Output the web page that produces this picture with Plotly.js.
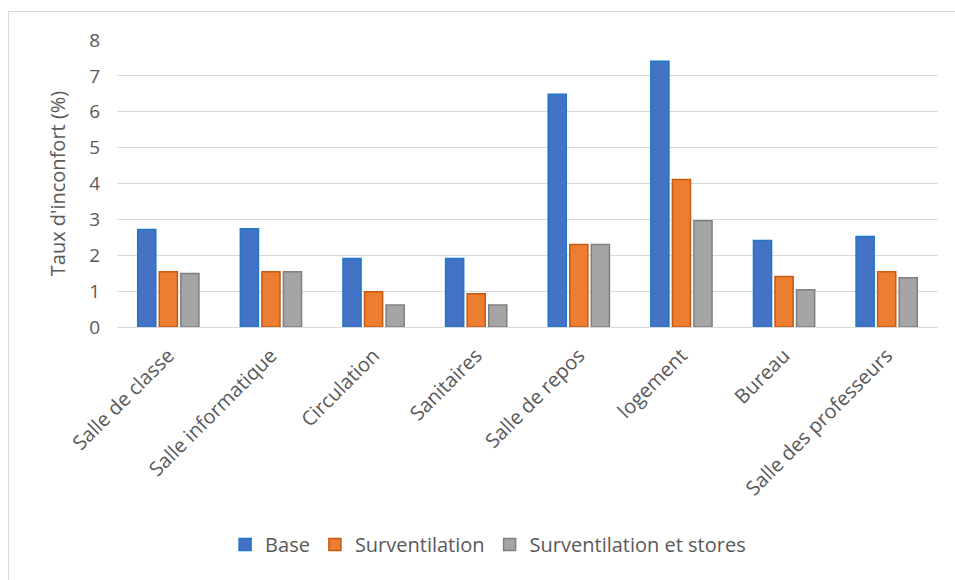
<!DOCTYPE html>
<html>
<head>
<meta charset="utf-8">
<script src="https://cdn.plot.ly/plotly-3.0.1.min.js"></script>
<style>
  html, body { margin: 0; padding: 0; background: #fff; }
  #wrap { position: relative; width: 955px; height: 580px; overflow: hidden; }
  #chart { width: 955px; height: 580px; }
  #frame { position: absolute; left: 8px; top: 11px; width: 960px; height: 600px;
           border-left: 1px solid #d9d9d9; border-top: 1px solid #d9d9d9; pointer-events: none; }
</style>
</head>
<body>
<div id="wrap">
  <div id="chart"></div>
  <div id="frame"></div>
</div>
<script>
const categories = ["Salle de classe", "Salle informatique", "Circulation", "Sanitaires",
                    "Salle de repos", "logement", "Bureau", "Salle des professeurs"];
const seriesNames = ["Base", "Surventilation", "Surventilation et stores"];
const base = [2.72, 2.74, 1.91, 1.91, 6.49, 7.41, 2.41, 2.52];
const surventilation = [1.54, 1.54, 0.98, 0.93, 2.30, 4.11, 1.41, 1.54];
const surventilationStores = [1.49, 1.54, 0.61, 0.61, 2.30, 2.96, 1.04, 1.37];
const yTicks = [0, 1, 2, 3, 4, 5, 6, 7, 8];

const fills = ["#4472C4", "#ED7D31", "#A5A5A5"];
const lines = ["#1F77C8", "#C55A11", "#7F7F7F"];
const values = [base, surventilation, surventilationStores];

const FONT = "'Open Sans', 'Noto Sans', sans-serif";

const data = values.map((v, i) => ({
  type: "bar",
  name: seriesNames[i],
  x: categories,
  y: v,
  marker: { color: fills[i], line: { color: lines[i], width: 1.5 } },
  hoverinfo: "x+y+name"
}));

const layout = {
  width: 955, height: 580,
  margin: { l: 117, r: 17, t: 40, b: 253 },
  paper_bgcolor: "#ffffff",
  plot_bgcolor: "#ffffff",
  font: { family: FONT, color: "#595959", size: 18 },
  barmode: "group",
  bargap: 0.37,
  bargroupgap: 0.16,
  showlegend: true,
  legend: {
    orientation: "h",
    x: 0.452, xanchor: "center",
    y: -0.69, yanchor: "top",
    font: { family: FONT, size: 20, color: "#595959" },
    itemwidth: 30,
    traceorder: "normal"
  },
  xaxis: {
    type: "category",
    tickangle: -45,
    tickfont: { family: FONT, size: 20, color: "#595959" },
    showgrid: false,
    showline: true,
    linecolor: "#d9d9d9",
    linewidth: 1,
    ticks: "",
    ticklabelstandoff: 8,
    automargin: false
  },
  yaxis: {
    range: [0, 8],
    tickvals: yTicks,
    ticktext: yTicks.map(String),
    tickfont: { family: FONT, size: 19, color: "#595959" },
    showgrid: true,
    gridcolor: "#d9d9d9",
    gridwidth: 1.3,
    zeroline: false,
    showline: false,
    ticks: "",
    ticklabelstandoff: 16,
    title: { text: "Taux d'inconfort (%)", font: { family: FONT, size: 20, color: "#595959" }, standoff: 18 },
    automargin: false
  }
};

Plotly.newPlot("chart", data, layout, { displayModeBar: false });
</script>
</body>
</html>
